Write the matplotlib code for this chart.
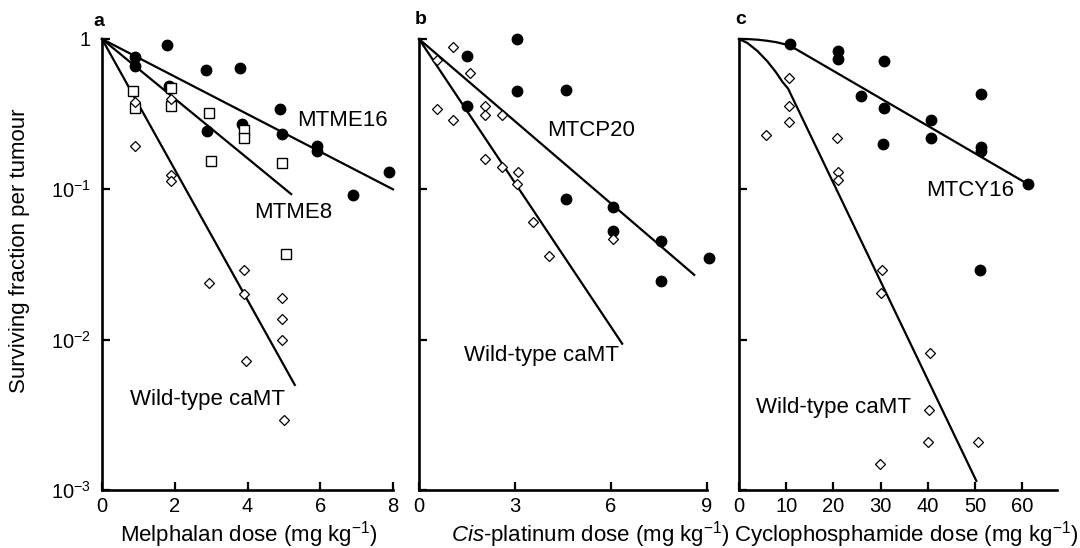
import matplotlib
matplotlib.use("Agg")
import matplotlib.pyplot as plt
from matplotlib.ticker import NullLocator, FixedLocator

plt.rcParams['font.family'] = ['Liberation Sans', 'DejaVu Sans']
plt.rcParams['mathtext.fontset'] = 'custom'
plt.rcParams['mathtext.rm'] = 'Liberation Sans'
plt.rcParams['mathtext.it'] = 'Liberation Sans:italic'
plt.rcParams['mathtext.bf'] = 'Liberation Sans:bold'

# ---- panel a: melphalan ----
a_mtme16_x = [0.9, 0.9, 1.8, 1.85, 2.85, 2.9, 3.8, 3.85, 4.9, 4.95, 5.9, 5.9, 6.9, 7.9]
a_mtme16_y = [0.76, 0.66, 0.91, 0.49, 0.62, 0.245, 0.64, 0.27, 0.34, 0.235, 0.195, 0.18, 0.092, 0.13]
a_mtme8_x = [0.85, 0.9, 1.9, 1.9, 2.95, 3.0, 3.9, 3.9, 4.95, 5.05]
a_mtme8_y = [0.45, 0.345, 0.47, 0.36, 0.32, 0.155, 0.25, 0.22, 0.15, 0.037]
a_wt_x = [0.9, 0.9, 1.9, 1.9, 1.9, 2.95, 3.9, 3.9, 3.95, 4.95, 4.95, 4.95, 5.0]
a_wt_y = [0.38, 0.195, 0.40, 0.125, 0.113, 0.024, 0.029, 0.020, 0.0072, 0.019, 0.0138, 0.010, 0.0029]
fit_a16_x, fit_a16_y = [0, 8], [1, 0.10]
fit_a8_x, fit_a8_y = [0, 5.2], [1, 0.093]
fit_awt_x, fit_awt_y = [0, 5.3], [1, 0.005]

# ---- panel b: cis-platinum ----
b_mtcp_x = [1.5, 3.05, 3.05, 4.6, 1.5, 4.6, 6.05, 6.05, 7.55, 9.05, 7.55]
b_mtcp_y = [0.77, 1.0, 0.45, 0.46, 0.36, 0.086, 0.076, 0.053, 0.045, 0.035, 0.0246]
b_wt_x = [1.05, 0.55, 1.6, 0.55, 1.05, 2.05, 2.05, 2.6, 2.05, 2.6, 3.1, 3.05, 3.55, 4.05, 6.05]
b_wt_y = [0.88, 0.73, 0.59, 0.34, 0.29, 0.36, 0.31, 0.31, 0.16, 0.14, 0.13, 0.108, 0.061, 0.036, 0.047]
fit_bcp_x, fit_bcp_y = [0, 8.6], [1, 0.027]
fit_bwt_x, fit_bwt_y = [0, 6.35], [1, 0.0094]

# ---- panel c: cyclophosphamide ----
c_mtcy_x = [10.8, 20.9, 20.9, 30.8, 25.8, 30.8, 30.6, 40.8, 40.8, 51.2, 51.2, 51.2, 61.3, 51.0]
c_mtcy_y = [0.93, 0.83, 0.74, 0.71, 0.42, 0.35, 0.20, 0.29, 0.22, 0.43, 0.19, 0.18, 0.109, 0.029]
c_wt_x = [5.65, 10.6, 10.6, 10.6, 20.7, 20.9, 21.0, 30.4, 30.2, 40.5, 40.3, 40.1, 50.7, 29.9]
c_wt_y = [0.23, 0.55, 0.36, 0.28, 0.22, 0.13, 0.116, 0.029, 0.0205, 0.0082, 0.0034, 0.0021, 0.0021, 0.0015]
fit_ccy_x = [0, 2, 4, 6, 8, 10, 12, 61.3]
fit_ccy_y = [1, 0.998, 0.989, 0.973, 0.951, 0.918, 0.859, 0.108]
fit_cwt_x = [0, 1.8, 3.9, 6.0, 7.8, 9.2, 10.4, 50.3]
fit_cwt_y = [1, 0.940, 0.832, 0.711, 0.603, 0.519, 0.468, 0.00115]

W, H = 1080, 548
fig = plt.figure(figsize=(W / 100, H / 100), dpi=100)


def px_axes(x0, x1, top=39, bottom=490):
    return fig.add_axes([x0 / W, 1 - bottom / H, (x1 - x0) / W, (bottom - top) / H])


def style(ax, xmax, xticks, ylabels=False):
    ax.set_yscale('log')
    ax.set_ylim(1e-3, 1)
    ax.set_xlim(0, xmax)
    ax.spines[['top', 'right']].set_visible(False)
    for s in ['left', 'bottom']:
        ax.spines[s].set_linewidth(1.9)
    ax.set_xticks(xticks)
    ax.yaxis.set_major_locator(FixedLocator([1e-3, 1e-2, 1e-1, 1]))
    ax.yaxis.set_minor_locator(NullLocator())
    ax.tick_params(direction='in', length=6, width=1.6, labelsize=14.5)
    ax.tick_params(axis='x', pad=5)
    ax.tick_params(axis='y', pad=8)
    if ylabels:
        ax.set_yticklabels(['10$^{-3}$', '10$^{-2}$', '10$^{-1}$', '1'])
    else:
        ax.set_yticklabels([])


def fit(ax, x, y):
    ax.plot(x, y, color='black', lw=1.6, zorder=2, clip_on=False)


def dots(ax, x, y, kind):
    if kind == 'o':
        ax.plot(x, y, 'o', color='black', ms=7.5, zorder=3, clip_on=False)
    elif kind == 's':
        ax.plot(x, y, 's', mfc='white', mec='black', mew=1.0, ms=6.5, zorder=4, clip_on=False)
    else:
        ax.plot(x, y, 'D', mfc='white', mec='black', mew=0.9, ms=5.5, zorder=5, clip_on=False)


ax_a = px_axes(102, 393)
style(ax_a, 8, [0, 2, 4, 6, 8], ylabels=True)
fit(ax_a, fit_a16_x, fit_a16_y)
fit(ax_a, fit_a8_x, fit_a8_y)
fit(ax_a, fit_awt_x, fit_awt_y)
dots(ax_a, a_mtme16_x, a_mtme16_y, 'o')
dots(ax_a, a_mtme8_x, a_mtme8_y, 's')
dots(ax_a, a_wt_x, a_wt_y, 'D')

ax_b = px_axes(419, 707)
style(ax_b, 9, [0, 3, 6, 9])
fit(ax_b, fit_bcp_x, fit_bcp_y)
fit(ax_b, fit_bwt_x, fit_bwt_y)
dots(ax_b, b_mtcp_x, b_mtcp_y, 'o')
dots(ax_b, b_wt_x, b_wt_y, 'D')

ax_c = px_axes(739, 1057)
style(ax_c, 67.4, [0, 10, 20, 30, 40, 50, 60])
fit(ax_c, fit_ccy_x, fit_ccy_y)
fit(ax_c, fit_cwt_x, fit_cwt_y)
dots(ax_c, c_mtcy_x, c_mtcy_y, 'o')
dots(ax_c, c_wt_x, c_wt_y, 'D')


def ftext(x, y, s, va='center', **kw):
    fig.text(x / W, 1 - y / H, s, ha='center', va=va, **kw)


# curve labels
ftext(342, 120, 'MTME16', fontsize=16)
ftext(293, 213, 'MTME8', fontsize=16)
ftext(208, 400, 'Wild-type caMT', fontsize=16)
ftext(591, 130, 'MTCP20', fontsize=16)
ftext(541, 355, 'Wild-type caMT', fontsize=16)
ftext(970, 190, 'MTCY16', fontsize=16)
ftext(834, 408, 'Wild-type caMT', fontsize=16)

# panel letters
ftext(99, 21, 'a', fontsize=14, fontweight='bold')
ftext(421, 20, 'b', fontsize=14, fontweight='bold')
ftext(741, 20, 'c', fontsize=14, fontweight='bold')

# axis labels
ftext(20, 251, 'Surviving fraction per tumour', fontsize=16, rotation=90)
ftext(249, 541, 'Melphalan dose (mg kg$^{-1}$)', va='baseline', fontsize=16)
ftext(590, 541, r'$\mathit{Cis}$-platinum dose (mg kg$^{-1}$)', va='baseline', fontsize=16)
ftext(906, 541, 'Cyclophosphamide dose (mg kg$^{-1}$)', va='baseline', fontsize=16)

fig.savefig('out.png', dpi=100)
